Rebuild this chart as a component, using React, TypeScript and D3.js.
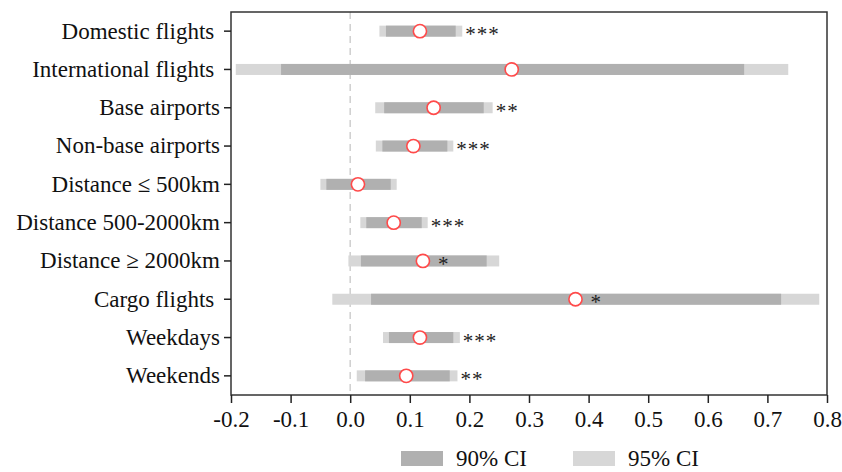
import * as React from "react";
import * as d3 from "d3";

const categories = [
  "Domestic flights ",
  "International flights ",
  "Base airports",
  "Non-base airports",
  "Distance ≤ 500km",
  "Distance 500-2000km",
  "Distance ≥ 2000km",
  "Cargo flights ",
  "Weekdays",
  "Weekends",
];
const estimate = [0.117, 0.271, 0.140, 0.106, 0.013, 0.073, 0.122, 0.378, 0.117, 0.094];
const lo90 = [0.060, -0.116, 0.057, 0.054, -0.040, 0.027, 0.018, 0.035, 0.065, 0.025];
const hi90 = [0.177, 0.661, 0.224, 0.163, 0.068, 0.120, 0.229, 0.723, 0.173, 0.167];
const lo95 = [0.049, -0.192, 0.042, 0.043, -0.050, 0.017, -0.003, -0.030, 0.055, 0.011];
const hi95 = [0.188, 0.735, 0.239, 0.173, 0.078, 0.130, 0.250, 0.787, 0.184, 0.180];
const stars = ["***", "", "**", "***", "", "***", "*", "*", "***", "**"];
// stars sit right after the point instead of after the bar
const starsAfterPoint = [false, false, false, false, false, false, true, true, false, false];
const xTicks = [-0.2, -0.1, 0.0, 0.1, 0.2, 0.3, 0.4, 0.5, 0.6, 0.7, 0.8];
const legendItems = ["90% CI", "95% CI"];

const dark = "#b0b0b0";
const light = "#d7d7d7";
const font = "'Liberation Serif', 'Times New Roman', serif";
const fontSize = 23;

export default function App() {
  const ref = React.useRef<SVGSVGElement>(null);

  React.useEffect(() => {
    const svg = d3.select(ref.current);
    svg.selectAll("*").remove();

    const margin = { top: 12, right: 15, bottom: 77, left: 231 };
    const width = 842;
    const height = 472;

    const x = d3
      .scaleLinear()
      .domain([-0.2, 0.8])
      .range([margin.left, width - margin.right]);
    const y = d3
      .scaleBand()
      .domain(categories)
      .range([margin.top, height - margin.bottom]);

    const rows = categories.map((c, i) => ({
      c,
      est: estimate[i],
      lo90: lo90[i],
      hi90: hi90[i],
      lo95: lo95[i],
      hi95: hi95[i],
      stars: stars[i],
      after: starsAfterPoint[i],
    }));
    const cy = (d) => y(d.c) + y.bandwidth() / 2;
    const barH = 11;

    // zero line
    svg
      .append("line")
      .attr("x1", x(0))
      .attr("x2", x(0))
      .attr("y1", margin.top)
      .attr("y2", height - margin.bottom)
      .attr("stroke", "#cfcfcf")
      .attr("stroke-width", 1.5)
      .attr("stroke-dasharray", "7,5");

    const g = svg.append("g");

    g.selectAll(".ci95")
      .data(rows)
      .enter()
      .append("rect")
      .attr("x", (d) => x(d.lo95))
      .attr("width", (d) => x(d.hi95) - x(d.lo95))
      .attr("y", (d) => cy(d) - barH / 2)
      .attr("height", barH)
      .attr("fill", light);

    g.selectAll(".ci90")
      .data(rows)
      .enter()
      .append("rect")
      .attr("x", (d) => x(d.lo90))
      .attr("width", (d) => x(d.hi90) - x(d.lo90))
      .attr("y", (d) => cy(d) - barH / 2)
      .attr("height", barH)
      .attr("fill", dark);

    g.selectAll("circle")
      .data(rows)
      .enter()
      .append("circle")
      .attr("cx", (d) => x(d.est))
      .attr("cy", cy)
      .attr("r", 6.6)
      .attr("fill", "white")
      .attr("stroke", "#ff4a4a")
      .attr("stroke-width", 1.6);

    g.selectAll(".stars")
      .data(rows)
      .enter()
      .append("text")
      .attr("x", (d) => (d.after ? x(d.est) + 15 : x(d.hi95) + 3))
      .attr("y", (d) => cy(d) + 10)
      .attr("font-family", font)
      .attr("font-size", 21)
      .attr("letter-spacing", 1)
      .attr("fill", "#222")
      .text((d) => d.stars);

    // frame
    svg
      .append("rect")
      .attr("x", margin.left)
      .attr("y", margin.top)
      .attr("width", width - margin.right - margin.left)
      .attr("height", height - margin.bottom - margin.top)
      .attr("fill", "none")
      .attr("stroke", "#333")
      .attr("stroke-width", 1.5);

    const yAxis = svg
      .append("g")
      .attr("transform", `translate(${margin.left},0)`)
      .call(d3.axisLeft(y).tickSize(7).tickPadding(4));
    yAxis.select(".domain").remove();
    yAxis.selectAll("line").attr("stroke", "#222").attr("stroke-width", 1.5);
    yAxis
      .selectAll("text")
      .attr("font-family", font)
      .attr("font-size", fontSize)
      .attr("fill", "#111")
      .style("white-space", "pre");

    const xAxis = svg
      .append("g")
      .attr("transform", `translate(0,${height - margin.bottom})`)
      .call(
        d3
          .axisBottom(x)
          .tickValues(xTicks)
          .tickFormat(d3.format(".1f"))
          .tickSize(8)
          .tickPadding(8)
      );
    xAxis.select(".domain").remove();
    xAxis.selectAll("line").attr("stroke", "#222").attr("stroke-width", 1.5);
    xAxis
      .selectAll("text")
      .attr("font-family", font)
      .attr("font-size", fontSize)
      .attr("fill", "#111")
      .text((d) => d3.format(".1f")(d).replace("−", "-"));

    // legend
    const legend = svg.append("g").attr("transform", "translate(401,451)");
    const item = legend
      .selectAll("g")
      .data(legendItems)
      .enter()
      .append("g")
      .attr("transform", (d, i) => `translate(${i * 172},0)`);
    item
      .append("rect")
      .attr("width", 42)
      .attr("height", 15)
      .attr("fill", (d, i) => (i === 0 ? dark : light));
    item
      .append("text")
      .attr("x", 55)
      .attr("y", 15)
      .attr("font-family", font)
      .attr("font-size", fontSize)
      .attr("fill", "#111")
      .text((d) => d);
  }, []);

  return (
    <svg
      ref={ref}
      width={842}
      height={472}
      style={{ position: "absolute", left: 0, top: 0, background: "white" }}
    />
  );
}
